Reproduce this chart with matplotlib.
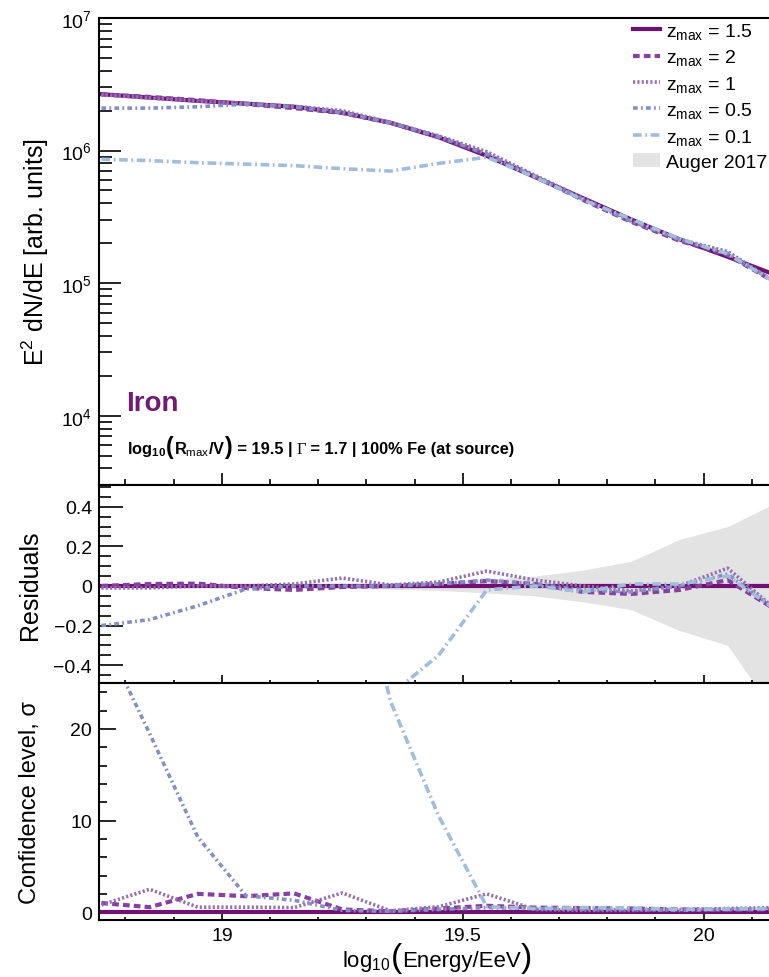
import numpy as np
import matplotlib.pyplot as plt
from matplotlib.patches import Patch
from matplotlib.ticker import MultipleLocator, FixedLocator, LogLocator
from matplotlib.offsetbox import TextArea, HPacker, AnchoredOffsetbox

plt.rcParams['font.family'] = ['Liberation Sans', 'DejaVu Sans']
plt.rcParams['mathtext.fontset'] = 'custom'
plt.rcParams['mathtext.rm'] = 'Liberation Sans'
plt.rcParams['mathtext.bf'] = 'Liberation Sans:bold'
plt.rcParams['mathtext.it'] = 'Liberation Sans:italic'

# energy bins, log10(E/eV)
log_e = [18.75, 18.85, 18.95, 19.05, 19.15, 19.25, 19.35, 19.45,
         19.55, 19.65, 19.75, 19.85, 19.95, 20.05, 20.15, 20.25]

# E^2 dN/dE for each maximal source redshift
flux_z15 = [2.66e6, 2.51e6, 2.37e6, 2.26e6, 2.14e6, 1.93e6, 1.62e6, 1.26e6,
            9.12e5, 6.31e5, 4.37e5, 3.02e5, 2.14e5, 1.58e5, 1.15e5, 7.9e4]
flux_z2 = [2.66e6, 2.54e6, 2.40e6, 2.24e6, 2.09e6, 1.92e6, 1.62e6, 1.27e6,
           9.35e5, 6.37e5, 4.24e5, 2.90e5, 2.09e5, 1.63e5, 1.01e5, 6.4e4]
flux_z1 = [2.64e6, 2.49e6, 2.37e6, 2.26e6, 2.16e6, 2.00e6, 1.63e6, 1.29e6,
           9.8e5, 6.5e5, 4.37e5, 2.94e5, 2.14e5, 1.73e5, 1.01e5, 6.4e4]
flux_z05 = [2.09e6, 2.09e6, 2.14e6, 2.24e6, 2.14e6, 1.93e6, 1.62e6, 1.27e6,
            9.4e5, 6.37e5, 4.28e5, 2.93e5, 2.14e5, 1.68e5, 1.01e5, 6.4e4]
flux_z01 = [8.6e5, 8.4e5, 8.1e5, 7.9e5, 7.7e5, 7.3e5, 7.0e5, 8.0e5,
            8.9e5, 6.3e5, 4.24e5, 3.05e5, 2.16e5, 1.66e5, 1.01e5, 6.4e4]

# residuals with respect to the best fit
res_z15 = [0.0] * 16
res_z2 = [0.0, 0.01, 0.012, -0.01, -0.02, -0.005, 0.0, 0.01,
          0.025, 0.01, -0.03, -0.04, -0.02, 0.03, -0.12, -0.2]
res_z1 = [-0.01, -0.01, 0.0, 0.0, 0.01, 0.04, 0.005, 0.02,
          0.075, 0.03, 0.0, -0.025, 0.0, 0.09, -0.12, -0.2]
res_z05 = [-0.20, -0.17, -0.10, -0.015, 0.0, 0.0, 0.0, 0.01,
           0.03, 0.01, -0.02, -0.03, 0.0, 0.06, -0.12, -0.2]
res_z01 = [-0.68, -0.67, -0.66, -0.65, -0.64, -0.62, -0.55, -0.35,
           -0.02, 0.0, -0.03, 0.01, 0.01, 0.05, -0.12, -0.2]
auger_hi = [0.008, 0.008, 0.009, 0.01, 0.011, 0.013, 0.016, 0.022,
            0.035, 0.05, 0.08, 0.125, 0.235, 0.30, 0.42, 0.55]
auger_lo = [-0.008, -0.008, -0.009, -0.01, -0.011, -0.013, -0.016, -0.022,
            -0.035, -0.05, -0.08, -0.12, -0.225, -0.30, -0.65, -0.9]

# deviation in sigma
sig_z15 = [0.0] * 16
sig_z2 = [1.0, 0.55, 2.0, 1.75, 2.05, 0.3, 0.1, 0.4,
          0.7, 0.5, 0.45, 0.4, 0.3, 0.25, 0.3, 0.3]
sig_z1 = [0.8, 2.5, 0.55, 0.55, 0.5, 2.1, 0.15, 0.6,
          2.0, 0.3, 0.2, 0.2, 0.3, 0.4, 0.5, 0.5]
sig_z05 = [30.5, 19.5, 8.2, 1.8, 1.3, 0.2, 0.1, 0.3,
           0.5, 0.4, 0.3, 0.3, 0.2, 0.3, 0.4, 0.4]
sig_z01 = [90.0, 80.0, 70.0, 60.0, 50.0, 45.0, 23.0, 10.5,
           0.6, 0.4, 0.5, 0.45, 0.3, 0.35, 0.4, 0.4]

labels = [r'z$_{\mathrm{max}}$ = 1.5', r'z$_{\mathrm{max}}$ = 2', r'z$_{\mathrm{max}}$ = 1',
          r'z$_{\mathrm{max}}$ = 0.5', r'z$_{\mathrm{max}}$ = 0.1']
colors = ['#6f1170', '#87409e', '#9470b2', '#8290c4', '#a2bddc']
styles = ['-', (0, (1.6, 1.0)), (0, (0.6, 0.6)), (0, (1.3, 0.9, 0.5, 0.9)), (0, (2.4, 1.0, 0.5, 1.0))]
widths = [3.0, 3.0, 2.6, 2.6, 2.6]

W, H = 769, 978


def box(x0, y0, x1, y1):
    return [x0 / W, 1 - y1 / H, (x1 - x0) / W, (y1 - y0) / H]


fig = plt.figure(figsize=(W / 100, H / 100), dpi=100)
ax1 = fig.add_axes(box(99, 19, 824, 486))
ax2 = fig.add_axes(box(99, 486, 824, 684), sharex=ax1)
ax3 = fig.add_axes(box(99, 684, 824, 921), sharex=ax1)

# spectrum
for y, lab, c, ls, lw in zip([flux_z15, flux_z2, flux_z1, flux_z05, flux_z01],
                             labels, colors, styles, widths):
    ax1.plot(log_e, y, color=c, ls=ls, lw=lw, label=lab)
ax1.set_yscale('log')
ax1.set_ylim(3e3, 1e7)
ax1.set_xlim(18.745, 20.25)

# residuals
ax2.fill_between(log_e, auger_lo, auger_hi, color='#e3e3e3', lw=0)
for y, c, ls, lw in zip([res_z15, res_z2, res_z1, res_z05, res_z01], colors, styles, widths):
    ax2.plot(log_e, y, color=c, ls=ls, lw=lw)
ax2.set_ylim(-0.49, 0.51)

# confidence level
for y, c, ls, lw in zip([sig_z15, sig_z2, sig_z1, sig_z05, sig_z01], colors, styles, widths):
    ax3.plot(log_e, y, color=c, ls=ls, lw=lw)
ax3.set_ylim(-0.85, 25)

for ax in (ax1, ax2, ax3):
    for s in ax.spines.values():
        s.set_linewidth(1.5)
    ax.spines['right'].set_visible(False)
    ax.xaxis.set_major_locator(FixedLocator([19.0, 19.5, 20.0]))
    ax.xaxis.set_minor_locator(MultipleLocator(0.1))
    ax.tick_params(which='both', direction='in', top=False, right=False,
                   width=1.2, labelsize=14, pad=5)

ax1.tick_params(axis='y', which='major', length=16)
ax1.tick_params(axis='y', which='minor', length=9)
ax1.tick_params(axis='x', which='major', length=9)
ax1.tick_params(axis='x', which='minor', length=4)
ax1.yaxis.set_major_locator(LogLocator(base=10))
ax1.yaxis.set_minor_locator(LogLocator(base=10, subs=np.arange(2, 10)))

ax2.set_yticks([-0.4, -0.2, 0, 0.2, 0.4], ['\u22120.4', '\u22120.2', '0', '0.2', '0.4'])
ax2.yaxis.set_minor_locator(MultipleLocator(0.05))
ax2.tick_params(axis='y', which='major', length=17)
ax2.tick_params(axis='y', which='minor', length=8.5)
ax2.tick_params(axis='x', which='major', length=6)
ax2.tick_params(axis='x', which='minor', length=2.5)

ax3.set_yticks([0, 10, 20])
ax3.yaxis.set_minor_locator(MultipleLocator(2))
ax3.tick_params(axis='y', which='major', length=12)
ax3.tick_params(axis='y', which='minor', length=6)
ax3.tick_params(axis='x', which='major', length=4.5)
ax3.tick_params(axis='x', which='minor', length=2.2)
ax3.set_xticks([19.0, 19.5, 20.0], ['19', '19.5', '20'])

ax1.tick_params(axis='x', labelbottom=False)
ax2.tick_params(axis='x', labelbottom=False)

ax1.set_ylabel(r'E$^2$ dN/dE [arb. units]', fontsize=18)
ax1.yaxis.set_label_coords(-0.066, 0.5)
ax2.set_ylabel('Residuals', fontsize=18)
ax2.yaxis.set_label_coords(-0.079, 0.5)
ax3.set_ylabel('Confidence level, σ', fontsize=17)
ax3.yaxis.set_label_coords(-0.08, 0.5)


def place_row(parts, xy, loc):
    # a row of text pieces sharing one baseline, e.g. tall brackets around a term
    row = HPacker(children=[TextArea(t, textprops=p) for t, p in parts],
                  align='baseline', pad=0, sep=0)
    fig.add_artist(AnchoredOffsetbox(loc=loc, child=row, frameon=False, pad=0, borderpad=0,
                                     bbox_to_anchor=(xy[0] / W, 1 - xy[1] / H),
                                     bbox_transform=fig.transFigure))


# x axis title
xt = dict(fontsize=16)
xp = dict(fontsize=24)
place_row([(r'log$_{10}$', xt), ('(', xp), ('Energy/EeV', xt), (')', xp)], (437, 959), 'center')

fig.text(126 / W, 1 - 411 / H, 'Iron', fontsize=20, fontweight='bold', color='#731a75', va='baseline')

st = dict(fontsize=11.8, fontweight='bold')
sp = dict(fontsize=16.5, fontweight='bold')
sg = dict(fontsize=11.8, family='Liberation Serif')
place_row([(r'log$_{\mathbf{10}}$', st), ('(', sp), (r'R$_{\mathrm{max}}$/V', st), (')', sp),
           (' = 19.5 | ', st), ('Γ', sg), (' = 1.7 | 100% Fe (at source)', st)],
          (127, 448), 'center left')

handles, labs = ax1.get_legend_handles_labels()
handles.append(Patch(facecolor='#e3e3e3', edgecolor='none'))
labs.append('Auger 2017')
ax1.legend(handles, labs, loc='upper left', bbox_to_anchor=(633 / W, 1 - 22 / H),
           bbox_transform=fig.transFigure, frameon=False, fontsize=14,
           handlelength=1.4, handletextpad=0.3, labelspacing=0.33,
           borderpad=0, borderaxespad=0)

fig.savefig('out.png', dpi=100)
